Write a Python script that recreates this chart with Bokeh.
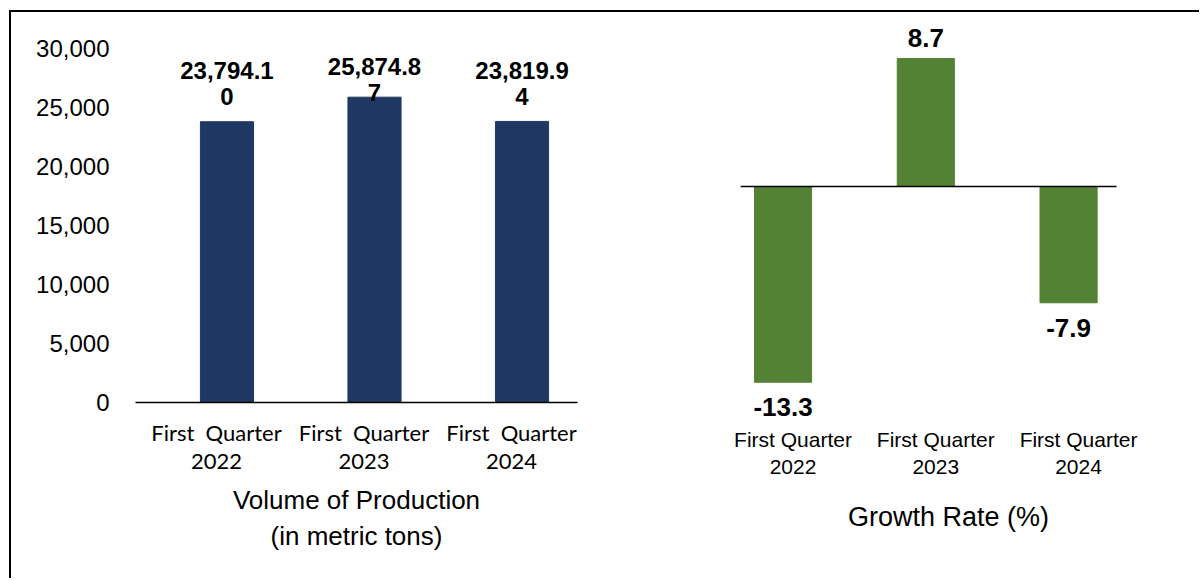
from bokeh.plotting import figure
from bokeh.layouts import row
from bokeh.models import Range1d, FixedTicker, ColumnDataSource, NumeralTickFormatter
from bokeh.transform import dodge
from bokeh.core.properties import value
from bokeh.embed import file_html
from bokeh.resources import INLINE

# ---- data ----
years = ["2022", "2023", "2024"]
volume = [23794.10, 25874.87, 23819.94]          # metric tons
growth = [-13.3, 8.7, -7.9]                      # percent
volume_ticks = [0, 5000, 10000, 15000, 20000, 25000, 30000]

NAVY = "#203864"
GREEN = "#548235"
xs = list(range(len(years)))

def wrap_label(v):
    s = f"{v:,.2f}"
    return s[:-1] + "\n" + s[-1]

# ---------------- left: volume of production ----------------
p1 = figure(width=590, height=566, x_range=Range1d(-0.549, 2.447), y_range=Range1d(0, 30000),
            output_backend="svg", toolbar_location=None,
            min_border_left=124, min_border_right=24, min_border_top=36, min_border_bottom=176)
p1.frame_align = False
p1.outline_line_color = None
p1.grid.visible = False
p1.background_fill_color = None
p1.border_fill_color = None

LABEL_GAP = 3230
LABEL_CAP = 27400
src1 = ColumnDataSource(dict(
    x=xs, v=volume,
    lab=[wrap_label(v) for v in volume],
    ly=[min(v + LABEL_GAP, LABEL_CAP) for v in volume],
))
p1.vbar(x=dodge("x", 0.071), top="v", bottom=0, width=0.36, fill_color=NAVY, line_color=NAVY, source=src1)
p1.text(x=dodge("x", 0.071), y="ly", text="lab", source=src1, text_align="center", text_baseline="middle",
        text_font=value("Liberation Sans"), text_font_style="bold", text_font_size="24px",
        text_color="#000000", text_line_height=0.97)

ya = p1.yaxis[0]
ya.ticker = FixedTicker(ticks=volume_ticks)
ya.formatter = NumeralTickFormatter(format="0,0")
ya.axis_line_color = None
ya.major_tick_line_color = None
ya.minor_tick_line_color = None
ya.major_label_text_font = "Liberation Sans"
ya.major_label_text_font_size = "24px"
ya.major_label_text_color = "#000000"
ya.major_label_standoff = 20

xa = p1.xaxis[0]
xa.ticker = FixedTicker(ticks=xs)
xa.major_label_overrides = {i: f"First\u00a0 Quarter\n{y}" for i, y in zip(xs, years)}
xa.axis_line_color = "#000000"
xa.axis_line_width = 1.3
xa.major_tick_line_color = None
xa.minor_tick_line_color = None
xa.major_label_text_font = "Lato"
xa.major_label_text_font_size = "22px"
xa.major_label_text_color = "#000000"
xa.major_label_text_line_height = 1.05
xa.major_label_standoff = 10
xa.axis_label = "Volume of Production\n(in metric tons)"
xa.axis_label_text_font = "Liberation Sans"
xa.axis_label_text_font_size = "26px"
xa.axis_label_text_font_style = "normal"
xa.axis_label_text_color = "#000000"
xa.axis_label_standoff = 8

# ---------------- right: growth rate ----------------
p2 = figure(width=598, height=566, x_range=Range1d(-0.368, 2.546), y_range=Range1d(-15.9, 11.28),
            output_backend="svg", toolbar_location=None,
            min_border_left=139, min_border_right=43, min_border_top=8, min_border_bottom=158)
p2.frame_align = False
p2.outline_line_color = None
p2.grid.visible = False
p2.yaxis.visible = False
p2.background_fill_color = None
p2.border_fill_color = None

src2 = ColumnDataSource(dict(
    x=xs, g=growth,
    lab=[f"{g:.1f}" for g in growth],
    yo=[-20 if g >= 0 else 25 for g in growth],
))
p2.vbar(x=dodge("x", -0.07), top="g", bottom=0, width=0.40, fill_color=GREEN, line_color=GREEN, source=src2)
p2.segment(x0=p2.x_range.start, y0=0, x1=xs[-1] + 0.266, y1=0, line_color="#000000", line_width=1.3)
p2.text(x=dodge("x", -0.07), y="g", text="lab", y_offset="yo", source=src2, text_align="center",
        text_baseline="middle", text_font=value("Liberation Sans"), text_font_style="bold",
        text_font_size="26px", text_color="#000000")

xb = p2.xaxis[0]
xb.ticker = FixedTicker(ticks=xs)
xb.major_label_overrides = {i: f"First Quarter\n{y}" for i, y in zip(xs, years)}
xb.axis_line_color = None
xb.major_tick_line_color = None
xb.minor_tick_line_color = None
xb.major_label_text_font = "Liberation Sans"
xb.major_label_text_font_size = "21px"
xb.major_label_text_color = "#000000"
xb.major_label_text_line_height = 1.2
xb.major_label_standoff = 1
xb.axis_label = "Growth Rate (%)"
xb.axis_label_text_font = "Liberation Sans"
xb.axis_label_text_font_size = "27px"
xb.axis_label_text_font_style = "normal"
xb.axis_label_text_color = "#000000"
xb.axis_label_standoff = 21

layout = row(p1, p2, margin=(10, 0, 0, 9),
             styles={"border-top": "2px solid #000000", "border-left": "2px solid #000000"})

open("out.html", "w").write(file_html(layout, INLINE))
